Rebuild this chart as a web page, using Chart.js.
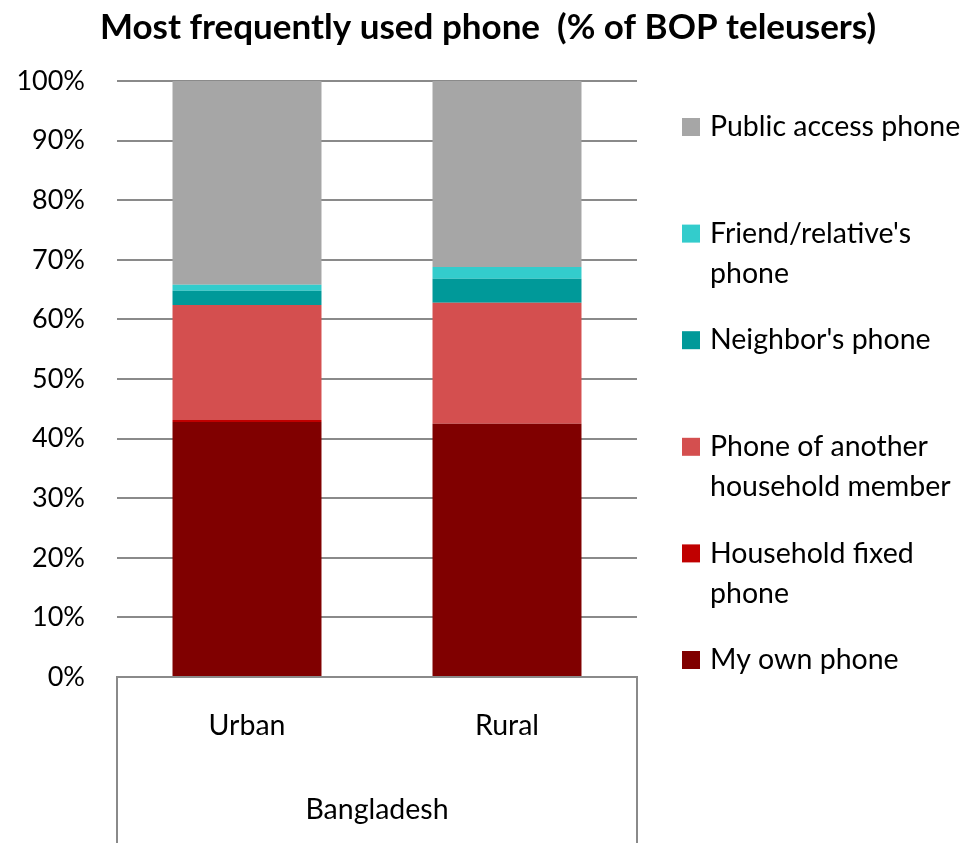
<!DOCTYPE html>
<html>
<head>
<meta charset="utf-8">
<title>Most frequently used phone</title>
<script src="https://cdn.jsdelivr.net/npm/chart.js@4.4.0/dist/chart.umd.min.js"></script>
<style>
  html, body { margin: 0; padding: 0; background: #fff; }
  #grafico { display: block; }
</style>
</head>
<body>
<canvas id="grafico" width="968" height="843"></canvas>
<script>
// categorias y valores (% de usuarios)
var categorias = ['Urban', 'Rural'];
var grupo = 'Bangladesh';
var titulo = 'Most frequently used phone  (% of BOP teleusers)';

var miTelefono = [42.8, 42.5];
var fijoHogar = [0.3, 0];
var otroMiembro = [19.3, 20.3];
var vecino = [2.4, 4.0];
var amigo = [1.0, 2.0];
var publico = [34.2, 31.2];

var ticksY = [0, 10, 20, 30, 40, 50, 60, 70, 80, 90, 100];

var fuente = 'Lato, "Open Sans", sans-serif';
var gris = '#8a8a8a';

// titulo, leyenda y el recuadro del eje de categorias
var extras = {
  id: 'extras',
  afterDraw: function (chart) {
    var c = chart.ctx;
    var area = chart.chartArea;
    c.save();

    c.fillStyle = '#000';
    c.font = 'bold 35px ' + fuente;
    c.textAlign = 'center';
    c.textBaseline = 'middle';
    c.fillText(titulo, 488, 28);

    c.strokeStyle = gris;
    c.lineWidth = 2;
    c.beginPath();
    c.moveTo(area.left, area.bottom);
    c.lineTo(area.left, chart.height);
    c.moveTo(area.right, area.bottom);
    c.lineTo(area.right, chart.height);
    c.stroke();

    c.font = '28.5px ' + fuente;
    c.textAlign = 'left';
    var ds = chart.data.datasets;
    for (var i = 0; i < ds.length; i++) {
      var y = 127 + (ds.length - 1 - i) * 106.6;
      c.fillStyle = ds[i].backgroundColor;
      c.fillRect(682, y - 9, 18, 18);
      c.fillStyle = '#000';
      var lineas = ds[i].label.split('\n');
      for (var j = 0; j < lineas.length; j++) {
        c.fillText(lineas[j], 710, y + j * 40);
      }
    }
    c.restore();
  }
};

new Chart(document.getElementById('grafico'), {
  type: 'bar',
  data: {
    labels: categorias,
    datasets: [
      { label: 'My own phone', data: miTelefono, backgroundColor: '#800000' },
      { label: 'Household fixed\nphone', data: fijoHogar, backgroundColor: '#c00000' },
      { label: 'Phone of another\nhousehold member', data: otroMiembro, backgroundColor: '#d44f4f' },
      { label: "Neighbor's phone", data: vecino, backgroundColor: '#009999' },
      { label: "Friend/relative's\nphone", data: amigo, backgroundColor: '#33cccc' },
      { label: 'Public access phone', data: publico, backgroundColor: '#a6a6a6' }
    ]
  },
  options: {
    responsive: false,
    animation: false,
    datasets: {
      bar: { categoryPercentage: 1, barPercentage: 0.573, borderWidth: 0 }
    },
    layout: { padding: { top: 81, right: 331, bottom: 0, left: 0 } },
    plugins: {
      legend: { display: false },
      title: { display: false },
      tooltip: { enabled: false }
    },
    scales: {
      x: {
        stacked: true,
        grid: { display: false, drawTicks: false },
        border: { display: true, color: gris, width: 2 },
        ticks: { color: '#000', font: { family: fuente, size: 28.5 }, padding: 32 },
        title: {
          display: true, text: grupo, color: '#000',
          font: { family: fuente, size: 28.5 }, padding: { top: 0, bottom: 16 }
        },
        afterFit: function (scale) { scale.height = 166; }
      },
      y: {
        stacked: true,
        min: 0,
        max: 100,
        afterBuildTicks: function (scale) {
          scale.ticks = ticksY.map(function (v) { return { value: v }; });
        },
        grid: { color: gris, lineWidth: 2, drawTicks: false },
        border: { display: false },
        ticks: {
          color: '#000', padding: 32,
          font: { family: fuente, size: 27 },
          callback: function (v) { return v + '%'; }
        },
        afterFit: function (scale) { scale.width = 117; }
      }
    }
  },
  plugins: [extras]
});
</script>
</body>
</html>
